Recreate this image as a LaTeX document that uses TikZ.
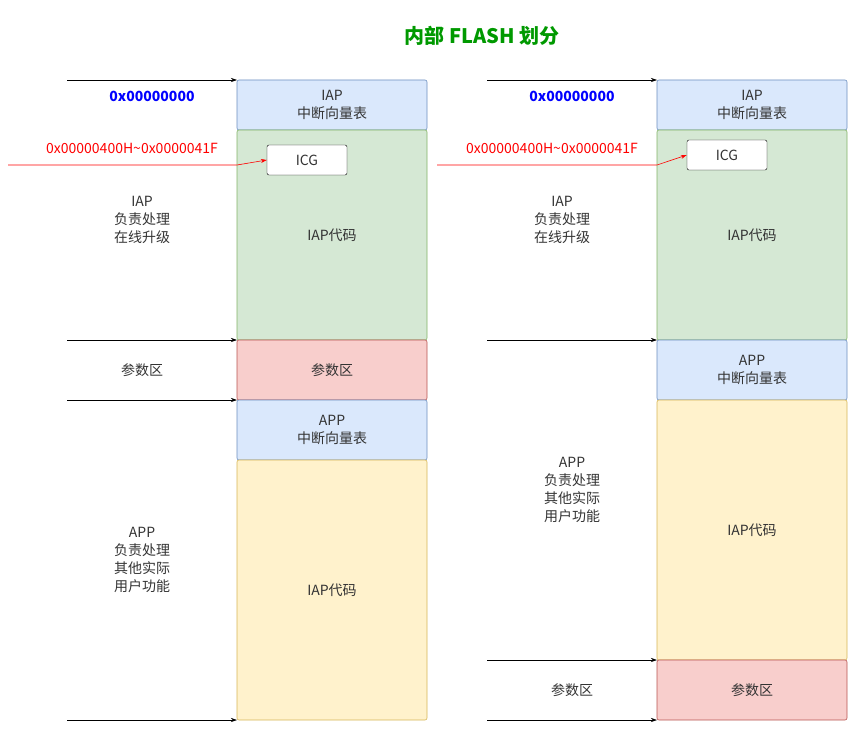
\documentclass[tikz,border=0pt]{standalone}
\usepackage{fontspec}
\setmainfont{Noto Sans CJK SC}
\usetikzlibrary{arrows.meta}
\begin{document}
\begin{tikzpicture}[x=1pt,y=-1pt,
  box/.style={draw,rounded corners=2pt,line width=0.6pt},
  bbox/.style={box,fill={rgb,255:red,218;green,232;blue,252},draw={rgb,255:red,108;green,142;blue,191}},
  gbox/.style={box,fill={rgb,255:red,213;green,232;blue,212},draw={rgb,255:red,130;green,179;blue,102}},
  rbox/.style={box,fill={rgb,255:red,248;green,206;blue,204},draw={rgb,255:red,184;green,84;blue,80}},
  ybox/.style={box,fill={rgb,255:red,255;green,242;blue,204},draw={rgb,255:red,214;green,182;blue,86}},
  txt/.style={text={rgb,255:red,51;green,51;blue,51},font=\fontsize{14}{18}\selectfont,align=center},
  arr/.style={-{Stealth[length=6pt,width=4pt]},line width=0.6pt},
  redarr/.style={arr,draw={rgb,255:red,255;green,0;blue,0}}]
\useasboundingbox (0,0) rectangle (848,730);
\node[font=\fontsize{20}{24}\selectfont\bfseries,text={rgb,255:red,0;green,153;blue,0}] (title) at (482,36) {内部 FLASH 划分};
% left column
\draw[bbox] (237,80) rectangle (427,130); \node[txt] (l1) at (332,105) {IAP\\中断向量表};
\draw[gbox] (237,130) rectangle (427,340); \node[txt] (l2) at (332,235) {IAP代码};
\draw[rbox] (237,340) rectangle (427,400); \node[txt] (l3) at (332,370) {参数区};
\draw[bbox] (237,400) rectangle (427,460); \node[txt] (l4) at (332,430) {APP\\中断向量表};
\draw[ybox] (237,460) rectangle (427,720); \node[txt] (l5) at (332,590) {IAP代码};
\node[draw,rounded corners=2pt,fill=white,minimum width=80pt,minimum height=30pt,txt] (icgL) at (307,160) {ICG};
\foreach \y/\n in {80/a,340/b,400/c,720/d}{\coordinate (ls\n) at (67,\y); \coordinate (le\n) at (237,\y); \draw[arr] (ls\n) -- (le\n);}
\node[font=\fontsize{14}{16}\selectfont\bfseries,text={rgb,255:red,0;green,0;blue,255}] (z1) at (152,96) {0x00000000};
\node[font=\fontsize{14}{16}\selectfont,text={rgb,255:red,255;green,0;blue,0}] (r1) at (132,148) {0x00000400H\textasciitilde0x0000041F};
\coordinate (rs1) at (8,165);
\draw[redarr] (rs1) -- (237,165) -- (icgL.west);
\node[txt] (t1) at (142,220) {IAP\\负责处理\\在线升级};
\node[txt] (t2) at (142,370) {参数区};
\node[txt] (t3) at (142,560) {APP\\负责处理\\其他实际\\用户功能};
% right column
\draw[bbox] (657,80) rectangle (847,130); \node[txt] (m1) at (752,105) {IAP\\中断向量表};
\draw[gbox] (657,130) rectangle (847,340); \node[txt] (m2) at (752,235) {IAP代码};
\draw[bbox] (657,340) rectangle (847,400); \node[txt] (m3) at (752,370) {APP\\中断向量表};
\draw[ybox] (657,400) rectangle (847,660); \node[txt] (m4) at (752,530) {IAP代码};
\draw[rbox] (657,660) rectangle (847,720); \node[txt] (m5) at (752,690) {参数区};
\node[draw,rounded corners=2pt,fill=white,minimum width=80pt,minimum height=30pt,txt] (icgR) at (727,155) {ICG};
\foreach \y/\n in {80/a,340/b,660/c,720/d}{\coordinate (rs\n) at (487,\y); \coordinate (re\n) at (657,\y); \draw[arr] (rs\n) -- (re\n);}
\node[font=\fontsize{14}{16}\selectfont\bfseries,text={rgb,255:red,0;green,0;blue,255}] (z2) at (572,96) {0x00000000};
\node[font=\fontsize{14}{16}\selectfont,text={rgb,255:red,255;green,0;blue,0}] (r2) at (552,148) {0x00000400H\textasciitilde0x0000041F};
\coordinate (rs2) at (437,165);
\draw[redarr] (rs2) -- (657,165) -- (icgR.west);
\node[txt] (u1) at (562,220) {IAP\\负责处理\\在线升级};
\node[txt] (u2) at (572,490) {APP\\负责处理\\其他实际\\用户功能};
\node[txt] (u3) at (572,690) {参数区};
\end{tikzpicture}
\end{document}
